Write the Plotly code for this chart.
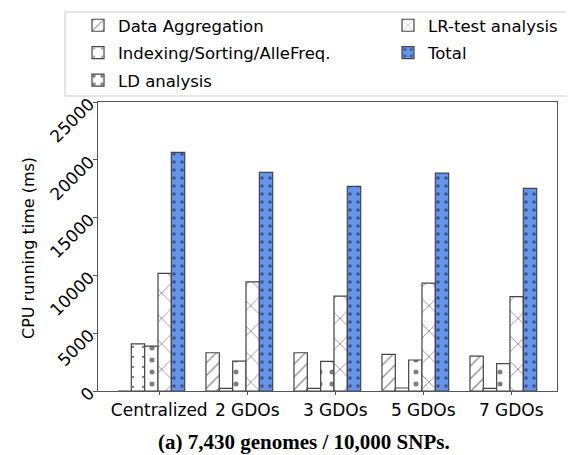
import plotly.graph_objects as go

categories = ["Centralized", "2 GDOs", "3 GDOs", "5 GDOs", "7 GDOs"]
data_aggregation = [0, 3310, 3310, 3160, 3020]
indexing = [4080, 230, 230, 260, 230]
ld_analysis = [3890, 2590, 2560, 2680, 2360]
lr_test = [10180, 9440, 8200, 9330, 8170]
total = [20640, 18910, 17700, 18850, 17530]

positions = list(range(len(categories)))
tick_shift = 0.09  # labels sit slightly right of the group centre in the original

series = [
    ("Data Aggregation", data_aggregation, dict(shape="/", size=9, solidity=0.14, fgcolor="#111", bgcolor="white"), "white", "legend"),
    ("Indexing/Sorting/AlleFreq.", indexing, dict(shape=".", size=10, solidity=0.04, fgcolor="#000", bgcolor="white"), "white", "legend"),
    ("LD analysis", ld_analysis, dict(shape=".", size=12, solidity=0.14, fgcolor="#000", bgcolor="white"), "white", "legend"),
    ("LR-test analysis", lr_test, dict(shape="x", size=18, solidity=0.09, fgcolor="#111", bgcolor="white"), "white", "legend2"),
    ("Total", total, dict(shape=".", size=8, solidity=0.16, fgcolor="#101030", bgcolor="#6495ED"), "#6495ED", "legend2"),
]

fig = go.Figure()
for name, vals, pat, color, lg in series:
    fig.add_trace(go.Bar(
        x=positions, y=vals, name=name, legend=lg, legendgroup=name,
        marker=dict(color=color, pattern=pat, line=dict(color="#444", width=1.2)),
    ))

legend_common = dict(
    orientation="v", xref="container", yref="container",
    yanchor="top", xanchor="left", y=1.0,
    borderwidth=0, bgcolor="rgba(0,0,0,0)",
    font=dict(size=16.5), tracegroupgap=3, itemwidth=30,
)

fig.update_layout(
    width=574, height=455,
    margin=dict(l=90, r=25, t=94, b=72, autoexpand=False),
    plot_bgcolor="white", paper_bgcolor="white",
    font=dict(family="DejaVu Sans", size=16, color="black"),
    barmode="group", bargap=0.242, bargroupgap=0,
    showlegend=True,
    legend=dict(legend_common, x=70/574),
    legend2=dict(legend_common, x=380/574),
    xaxis=dict(
        range=[-0.606, 4.61], showline=True, mirror=True, linecolor="#555", linewidth=1.2,
        tickmode="array", tickvals=[p + tick_shift for p in positions], ticktext=categories,
        ticks="outside", ticklen=3, tickcolor="#555", tickfont=dict(size=17),
        showgrid=False, zeroline=False,
    ),
    yaxis=dict(
        range=[0, 25000], dtick=5000, tickformat="d", showline=True, mirror=True,
        linecolor="#555", linewidth=1.2,
        ticks="outside", ticklen=4, tickcolor="#555", tickangle=-45, showgrid=False,
        zeroline=False, tickfont=dict(size=17),
    ),
    shapes=[dict(
        type="rect", xref="paper", yref="paper",
        x0=(57-90)/459, x1=(590-90)/459, y0=(383-88)/289, y1=(383-4)/289,
        line=dict(color="#cccccc", width=1), fillcolor="rgba(0,0,0,0)", layer="above",
    )],
    annotations=[
        dict(
            text="<b>(a) 7,430 genomes / 10,000 SNPs.</b>", xref="paper", yref="paper",
            x=(296-90)/459, y=(383-434)/289, xanchor="center", yanchor="middle", showarrow=False,
            font=dict(family="Liberation Serif", size=21, color="black"),
        ),
        dict(
            text="CPU running time (ms)", xref="paper", yref="paper",
            x=(20-90)/459, y=(383-240)/289, xanchor="center", yanchor="middle", showarrow=False,
            textangle=-90, font=dict(size=16, color="black"),
        ),
    ],
)

fig.write_html("out.html")
